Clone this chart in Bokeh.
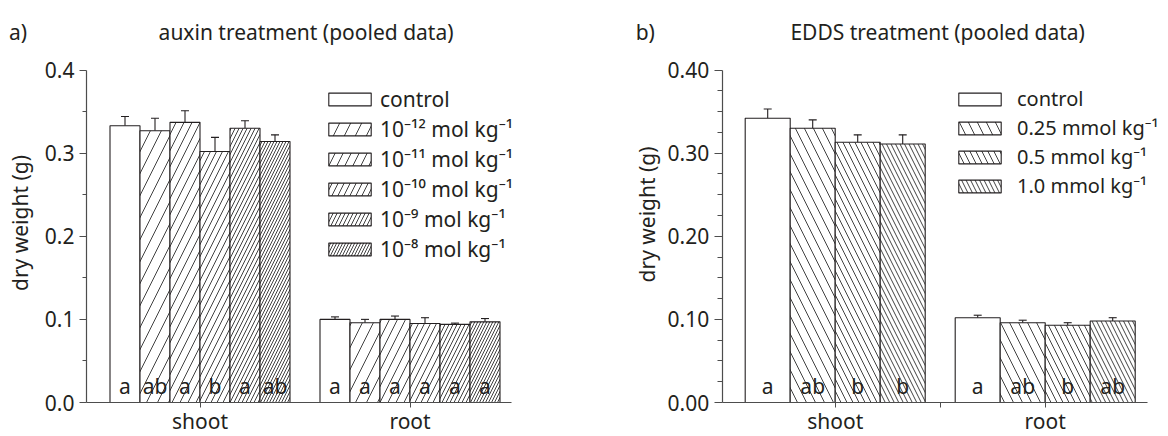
import math
from bokeh.plotting import figure
from bokeh.layouts import row
from bokeh.models import (Range1d, FixedTicker, ColumnDataSource, Whisker, TeeHead,
                          Legend, LegendItem, Label, NumeralTickFormatter)
from bokeh.core.properties import value
from bokeh.embed import file_html
from bokeh.resources import INLINE

FONT = "Noto Sans"
INK = "#231f20"
AXIS = "#4d4d4d"
FS = "21px"

# ---------------- data ----------------
groups = ["shoot", "root"]
group_pos = [1, 2]

# panel a: auxin treatment
aux_labels = ["control", "10⁻¹² mol kg⁻¹", "10⁻¹¹ mol kg⁻¹", "10⁻¹⁰ mol kg⁻¹",
              "10⁻⁹ mol kg⁻¹", "10⁻⁸ mol kg⁻¹"]
aux_shoot = [0.333, 0.327, 0.337, 0.302, 0.330, 0.314]
aux_shoot_se = [0.011, 0.015, 0.014, 0.017, 0.009, 0.008]
aux_root = [0.100, 0.096, 0.100, 0.095, 0.094, 0.097]
aux_root_se = [0.003, 0.004, 0.004, 0.007, 0.0015, 0.004]
aux_shoot_letters = ["a", "ab", "a", "b", "a", "ab"]
aux_root_letters = ["a", "a", "a", "a", "a", "a"]
aux_yticks = [0.0, 0.1, 0.2, 0.3, 0.4]
aux_yticklabels = ["0.0", "0.1", "0.2", "0.3", "0.4"]
aux_yminor = [0.05, 0.15, 0.25, 0.35]

# panel b: EDDS treatment
edds_labels = ["control", "0.25 mmol kg⁻¹", "0.5 mmol kg⁻¹", "1.0 mmol kg⁻¹"]
edds_shoot = [0.342, 0.330, 0.313, 0.311]
edds_shoot_se = [0.011, 0.010, 0.009, 0.011]
edds_root = [0.102, 0.096, 0.093, 0.098]
edds_root_se = [0.003, 0.003, 0.003, 0.004]
edds_shoot_letters = ["a", "ab", "b", "b"]
edds_root_letters = ["a", "ab", "b", "ab"]
edds_yticks = [0.0, 0.1, 0.2, 0.3, 0.4]
edds_yticklabels = ["0.00", "0.10", "0.20", "0.30", "0.40"]
edds_yminor = [0.025, 0.05, 0.075, 0.125, 0.15, 0.175, 0.225, 0.25, 0.275,
               0.325, 0.35, 0.375]

PX_PER_UNIT_X = 210.0
PX_PER_UNIT_Y = 831.25
H = 436
Y0_PX = 402  # pixel row of y = 0 inside each figure


def make_panel(width, shoot_px, axis_x, axis_x_end, labels, shoot, shoot_se, root, root_se,
               shoot_letters, root_letters, patterns, scales, yticks, yticklabels, yminor,
               fmt, ymaj_out, ymin_out, xticks, title, tag, title_x, tag_x, ylab_x, ylab_y,
               legend_loc, legend_spacing, legend_standoff, legend_fs):
    x0 = 1 - shoot_px / PX_PER_UNIT_X
    x1 = x0 + width / PX_PER_UNIT_X
    y0 = -(H - Y0_PX) / PX_PER_UNIT_Y
    y1 = Y0_PX / PX_PER_UNIT_Y
    p = figure(width=width, height=H, output_backend="svg", toolbar_location=None,
               x_range=Range1d(x0, x1), y_range=Range1d(y0, y1),
               min_border_left=0, min_border_right=0, min_border_top=0,
               min_border_bottom=0)
    p.xgrid.visible = False
    p.ygrid.visible = False
    p.outline_line_color = None
    p.background_fill_color = "white"

    n = len(labels)
    bw = (6.0 / 7.0) / n
    renderers = []
    for i in range(n):
        off = (i - (n - 1) / 2.0) * bw
        xs = [g + off for g in group_pos]
        tops = [shoot[i], root[i]]
        ses = [shoot_se[i], root_se[i]]
        src = ColumnDataSource(dict(x=xs, top=tops,
                                    upper=[t + s for t, s in zip(tops, ses)],
                                    let=[shoot_letters[i], root_letters[i]]))
        r = p.vbar(x="x", top="top", bottom=0, width=bw, source=src,
                   fill_color="white", line_color=INK, line_width=1.1,
                   hatch_pattern=patterns[i], hatch_scale=scales[i],
                   hatch_color="#2b2b2b", hatch_weight=0.9)
        renderers.append(r)
        w = Whisker(base="x", lower="top", upper="upper", source=src, dimension="height",
                    line_color=INK, line_width=1.1,
                    upper_head=TeeHead(size=8, line_color=INK, line_width=1.1),
                    lower_head=None)
        p.add_layout(w)
        p.text(x="x", y=0.0204, text="let", source=src, text_font=value(FONT),
               text_font_size=FS, text_align="center", text_baseline="alphabetic",
               text_color=INK)

    legend = Legend(items=[LegendItem(label=lab, renderers=[r])
                           for lab, r in zip(labels, renderers)],
                    location=legend_loc, padding=0, margin=0, border_line_alpha=0,
                    background_fill_alpha=0, glyph_width=53, glyph_height=16,
                    label_standoff=legend_standoff, spacing=legend_spacing,
                    label_height=20, label_text_font=FONT, label_text_font_size=legend_fs,
                    label_text_color=INK)
    p.add_layout(legend)

    # y axis, drawn at the left edge of the data area
    ya = p.yaxis[0]
    ya.fixed_location = axis_x
    ya.bounds = (yticks[0], yticks[-1])
    ya.ticker = FixedTicker(ticks=yticks, minor_ticks=yminor)
    ya.formatter = NumeralTickFormatter(format=fmt)
    ya.major_label_overrides = {t: s for t, s in zip(yticks, yticklabels)}
    ya.major_label_text_font = FONT
    ya.major_label_text_font_size = FS
    ya.major_label_text_color = INK
    ya.major_label_standoff = 5
    ya.axis_line_color = AXIS
    ya.axis_line_width = 1.2
    ya.major_tick_line_color = AXIS
    ya.minor_tick_line_color = AXIS
    ya.major_tick_in = 0
    ya.major_tick_out = ymaj_out
    ya.minor_tick_in = 0
    ya.minor_tick_out = ymin_out

    # x axis at y = 0; group names drawn as text below it
    xa = p.xaxis[0]
    xa.fixed_location = 0
    xa.bounds = (axis_x, axis_x_end)
    xa.ticker = FixedTicker(ticks=[], minor_ticks=xticks)
    xa.axis_line_color = AXIS
    xa.axis_line_width = 1.2
    xa.minor_tick_line_color = AXIS
    xa.minor_tick_in = 0
    xa.minor_tick_out = 5

    p.text(x=group_pos, y=[-0.0217] * len(groups), text=groups, text_font=value(FONT),
           text_font_size=FS, text_align="center", text_baseline="alphabetic",
           text_color=INK)

    p.add_layout(Label(x=ylab_x, y=ylab_y, text="dry weight (g)", angle=math.pi / 2,
                       text_align="center", text_baseline="middle", text_font=FONT,
                       text_font_size=FS, text_color=INK))
    p.add_layout(Label(x=title_x, y=0.4463, text=title, text_align="center",
                       text_baseline="middle", text_font=FONT, text_font_size=FS,
                       text_color=INK))
    p.add_layout(Label(x=tag_x, y=0.4463, text=tag, text_align="left",
                       text_baseline="middle", text_font=FONT, text_font_size=FS,
                       text_color=INK))
    return p


pa = make_panel(600, 199.5, 0.4595, 2.481, aux_labels, aux_shoot, aux_shoot_se,
                aux_root, aux_root_se, aux_shoot_letters, aux_root_letters,
                [None, "/", "/", "/", "/", "/"], [12, 22, 16, 12, 8, 6],
                aux_yticks, aux_yticklabels, aux_yminor, "0.0", 7, 4, [1, 2],
                "auxin treatment (pooled data)", "a)", 1.505, 0.09, 0.1405, 0.2159,
                (323, 173), 2, 4, FS)

pb = make_panel(568, 234.7, 0.4619, 2.486, edds_labels, edds_shoot, edds_shoot_se,
                edds_root, edds_root_se, edds_shoot_letters, edds_root_letters,
                [None, "\\", "\\", "\\"], [12, 18, 12, 9],
                edds_yticks, edds_yticklabels, edds_yminor, "0.00", 8, 5, [1, 1.5, 2],
                "EDDS treatment (pooled data)", "b)", 1.488, 0.05, 0.1038, 0.2262,
                (353, 237), 2, 11, "20px")

layout = row(pa, pb)
open("out.html", "w").write(file_html(layout, INLINE))
